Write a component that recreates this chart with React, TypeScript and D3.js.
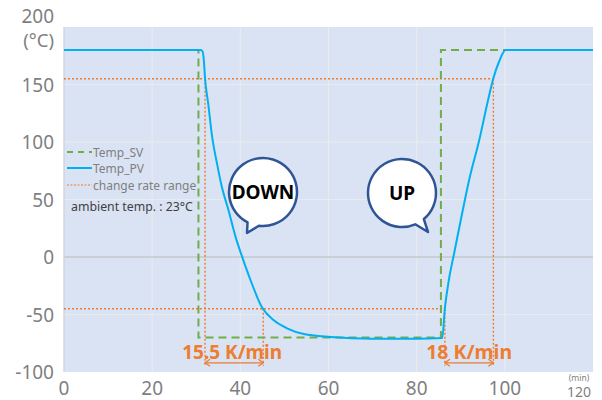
import React from "react";
import * as d3 from "d3";

const timeSV = [0, 30.5, 30.5, 85.5, 85.5, 120];
const tempSV = [180, 180, -70, -70, 180, 180];

const timePV = [0, 30.9, 31.4, 31.7, 32.0, 32.7, 33.6, 34.7, 35.8, 37.3, 38.9, 40.4, 42.3, 44.9, 47.6, 50.6, 54.4, 60.5, 70, 80, 85.8, 86.4, 87.3, 88.5, 90, 91.9, 94.2, 96.2, 97.4, 98.7, 100.2, 120];
const tempPV = [180, 180, 179, 172, 155, 133.7, 104.6, 81.4, 61.1, 40.9, 17.7, 0.3, -20, -43.7, -55, -62, -67, -69.5, -71, -71, -70.5, -44.6, -20, 3.2, 32, 67, 101.7, 136.5, 155.4, 170, 180, 180];

const xTicks = [0, 20, 40, 60, 80, 100];
const yTicks = [-100, -50, 0, 50, 100, 150];
const rateHigh = 155;
const rateLow = -45;
const downRange = [32.0, 45.2];
const upRange = [86.4, 97.4];
const downRateLabel = "15.5 K/min";
const upRateLabel = "18 K/min";
const legendLabels = ["Temp_SV", "Temp_PV", "change rate range"];
const ambientNote = "ambient temp. : 23°C";

const W = 602, H = 400;
const x = d3.scaleLinear().domain([0, 120]).range([64, 593]);
const y = d3.scaleLinear().domain([-100, 200]).range([372, 27]);

const GREEN = "#70ad47";
const BLUE = "#00b0f0";
const ORANGE = "#ed7d31";
const GREY = "#7f7f7f";
const FONT = "'Noto Sans', 'Open Sans', sans-serif";

function bubble(cx: number, cy: number, r: number, a1: number, a2: number, tx: number, ty: number) {
  const rad = (a: number) => (a * Math.PI) / 180;
  const p1 = [cx + r * Math.cos(rad(a1)), cy + r * Math.sin(rad(a1))];
  const p2 = [cx + r * Math.cos(rad(a2)), cy + r * Math.sin(rad(a2))];
  return `M${p1[0]},${p1[1]} A${r},${r} 0 1 0 ${p2[0]},${p2[1]} L${tx},${ty} Z`;
}

export default function App() {
  const svLine = d3.line<number>().x((d, i) => x(timeSV[i])).y((d) => y(d));
  const pvLine = d3
    .line<number>()
    .x((d, i) => x(timePV[i]))
    .y((d) => y(d))
    .curve(d3.curveMonotoneX);

  const arrowY = y(-92);
  const arrow = (x1: number, x2: number) => {
    const a = 5;
    return (
      <g stroke={ORANGE} strokeWidth={1.3} fill="none">
        <line x1={x1} x2={x2} y1={arrowY} y2={arrowY} />
        <path d={`M${x1 + a},${arrowY - a * 0.7} L${x1},${arrowY} L${x1 + a},${arrowY + a * 0.7}`} />
        <path d={`M${x2 - a},${arrowY - a * 0.7} L${x2},${arrowY} L${x2 - a},${arrowY + a * 0.7}`} />
      </g>
    );
  };

  const dcx = 263, dcy = 192, ucx = 402, ucy = 193;
  const legendY = [152, 168, 185];

  return (
    <svg width={W} height={H} style={{ position: "absolute", left: 0, top: 0 }} fontFamily={FONT}>
      <rect x={0} y={0} width={W} height={H} fill="#fff" />
      <rect x={x(0)} y={y(200)} width={x(120) - x(0)} height={y(-100) - y(200)} fill="#dae3f3" />
      {/* grid */}
      {[20, 40, 60, 80, 100].map((t) => (
        <line key={"gx" + t} x1={x(t)} x2={x(t)} y1={y(200)} y2={y(-100)} stroke="#e9ebef" strokeWidth={1.2} />
      ))}
      {[-50, 50, 100, 150].map((t) => (
        <line key={"gy" + t} x1={x(0)} x2={x(120)} y1={y(t)} y2={y(t)} stroke="#e9ebef" strokeWidth={1.2} />
      ))}
      <line x1={x(0)} x2={x(120)} y1={y(0)} y2={y(0)} stroke="#c4c7cc" strokeWidth={1.3} />
      <line x1={x(0)} x2={x(0)} y1={y(200)} y2={y(-100)} stroke="#d0d3d8" strokeWidth={1.3} />

      {/* rate range lines */}
      <g stroke={ORANGE} strokeWidth={1.4} strokeDasharray="2,2" fill="none">
        <line x1={x(0)} x2={x(upRange[1])} y1={y(rateHigh)} y2={y(rateHigh)} />
        <line x1={x(0)} x2={x(upRange[0])} y1={y(rateLow)} y2={y(rateLow)} />
        <line x1={x(downRange[0])} x2={x(downRange[0])} y1={y(rateHigh)} y2={arrowY + 3} />
        <line x1={x(downRange[1])} x2={x(downRange[1])} y1={y(rateLow)} y2={arrowY + 3} />
        <line x1={x(upRange[0])} x2={x(upRange[0])} y1={y(rateLow)} y2={arrowY + 3} />
        <line x1={x(upRange[1])} x2={x(upRange[1])} y1={y(rateHigh)} y2={arrowY + 3} />
      </g>
      {arrow(x(downRange[0]), x(downRange[1]))}
      {arrow(x(upRange[0]), x(upRange[1]))}

      {/* SV and PV */}
      <path d={svLine(tempSV) || ""} fill="none" stroke={GREEN} strokeWidth={2} strokeDasharray="8,5" />
      <path d={pvLine(tempPV) || ""} fill="none" stroke={BLUE} strokeWidth={2} />

      {/* rate labels */}
      <text x={(x(downRange[0]) + x(downRange[1])) / 2 - 2} y={359} textAnchor="middle" fontSize={19} fontWeight="bold" fill={ORANGE}>
        {downRateLabel}
      </text>
      <text x={(x(upRange[0]) + x(upRange[1])) / 2} y={359} textAnchor="middle" fontSize={19.5} fontWeight="bold" fill={ORANGE}>
        {upRateLabel}
      </text>

      {/* bubbles */}
      <path d={bubble(dcx, dcy, 34, 97, 117, 247, 233)} fill="#fff" stroke="#2f5597" strokeWidth={2.5} strokeLinejoin="round" />
      <text x={dcx} y={dcy + 7} textAnchor="middle" fontSize={19} fontWeight="bold" fill="#000">DOWN</text>
      <path d={bubble(ucx, ucy, 34, 50, 67, 428, 232)} fill="#fff" stroke="#2f5597" strokeWidth={2.5} strokeLinejoin="round" />
      <text x={ucx} y={ucy + 7} textAnchor="middle" fontSize={19} fontWeight="bold" fill="#000">UP</text>

      {/* legend */}
      <line x1={67} x2={92} y1={legendY[0]} y2={legendY[0]} stroke={GREEN} strokeWidth={2} strokeDasharray="6,5" />
      <line x1={67} x2={92} y1={legendY[1]} y2={legendY[1]} stroke={BLUE} strokeWidth={2} />
      <line x1={67} x2={92} y1={legendY[2]} y2={legendY[2]} stroke={ORANGE} strokeWidth={1.2} strokeDasharray="2,1.5" />
      {legendLabels.map((l, i) => (
        <text key={l} x={93} y={legendY[i] + 4.5} fontSize={12} fill={GREY}>{l}</text>
      ))}
      <text x={71} y={211} fontSize={12.3} fill="#404040">{ambientNote}</text>

      {/* axes labels */}
      {yTicks.map((t) => (
        <text key={"yl" + t} x={54} y={y(t) + 7} textAnchor="end" fontSize={19} fill={GREY}>{t}</text>
      ))}
      <text x={54} y={23} textAnchor="end" fontSize={19} fill={GREY}>200</text>
      <text x={54} y={47} textAnchor="end" fontSize={18.5} fill={GREY}>(°C)</text>
      {xTicks.map((t) => (
        <text key={"xl" + t} x={x(t)} y={395} textAnchor="middle" fontSize={19} fill={GREY}>{t}</text>
      ))}
      <text x={579} y={381} textAnchor="middle" fontSize={8.5} fill={GREY}>(min)</text>
      <text x={579} y={396.5} textAnchor="middle" fontSize={14} fill={GREY}>120</text>
    </svg>
  );
}
